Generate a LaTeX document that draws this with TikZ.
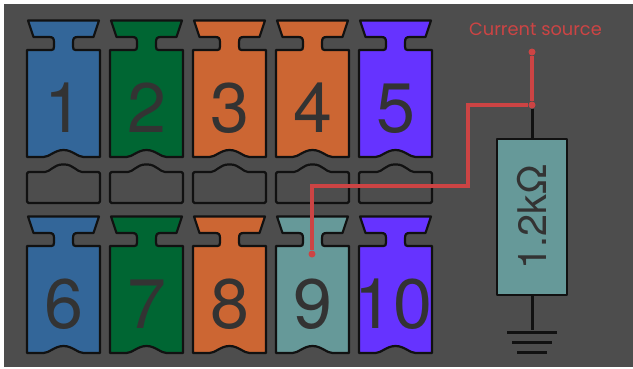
\documentclass[tikz,border=0pt]{standalone}
\usepackage{fontspec}
\setmainfont{TeX Gyre Heros}
\newfontfamily\labelfont{Poppins}
\usetikzlibrary{positioning}
\definecolor{PinBlue}{HTML}{336699}
\definecolor{PinGreen}{HTML}{006633}
\definecolor{PinOrange}{HTML}{CC6633}
\definecolor{PinPurple}{HTML}{6633FF}
\definecolor{PinTeal}{HTML}{669999}
\definecolor{PanelGray}{HTML}{4D4D4D}
\definecolor{InkDark}{HTML}{333333}
\definecolor{InkLine}{HTML}{111111}
\definecolor{WireRed}{HTML}{CC4444}

\begin{document}
\begin{tikzpicture}[
  x=1pt,y=-1pt,
  outline/.style={draw=InkLine,line width=2.2pt,line join=round},
  pinshape/.pic={
    \path[pic actions,outline] (-35.5,0) -- (35.5,0) -- (30,16.5) -- (14,16.5)
      .. controls (10.5,16.5) and (9.5,18) .. (9.5,22) -- (9.5,26)
      .. controls (9.5,28.5) and (10,29.5) .. (12,29.5)
      -- (36.5,29.5) -- (36.5,136.5) -- (20,136.5)
      .. controls (14,136.5) and (9,129.5) .. (0,129.5)
      .. controls (-9,129.5) and (-14,136.5) .. (-20,136.5)
      -- (-36.5,136.5) -- (-36.5,29.5) -- (-12,29.5)
      .. controls (-10,29.5) and (-9.5,28.5) .. (-9.5,26) -- (-9.5,22)
      .. controls (-9.5,18) and (-10.5,16.5) .. (-14,16.5)
      -- (-30,16.5) -- cycle;
  },
  slotshape/.pic={
    \path[outline,rounded corners=1.5pt] (-36.5,7.5) -- (-20,7.5)
      .. controls (-14,7.5) and (-9,0) .. (0,0)
      .. controls (9,0) and (14,7.5) .. (20,7.5)
      -- (36.5,7.5) -- (36.5,38.5) -- (-36.5,38.5) -- cycle;
  },
  digit/.style={anchor=base,text=InkDark,font=\fontsize{70}{70}\selectfont,inner sep=0pt},
  resbox/.style={outline,fill=PinTeal,rotate=90,minimum width=156pt,minimum height=70pt,inner sep=0pt,
    text=InkDark,font=\fontsize{39.5}{40}\selectfont},
  wire/.style={draw=InkLine,line width=3pt},
  redwire/.style={draw=WireRed,line width=3.2pt,line join=miter},
  dot/.style={circle,fill=WireRed,minimum size=7pt,inner sep=0pt},
  groundbar/.style={inner sep=0pt,minimum height=3pt,fill=InkLine}
]
\fill[white] (0,0) rectangle (633,368);
\useasboundingbox (0,0) rectangle (633,368);
\fill[PanelGray] (4,4) rectangle (633,367);
% pins
\foreach \n/\px/\py/\dx/\c in {1/63.5/20.5/0/PinBlue,2/146.5/20.5/0/PinGreen,3/229.5/20.5/0/PinOrange,4/312.5/20.5/0/PinOrange,5/395.5/20.5/0/PinPurple,
  6/63.5/216.5/0/PinBlue,7/146.5/216.5/0/PinGreen,8/229.5/216.5/0/PinOrange,9/312.5/216.5/0/PinTeal,10/395.5/216.5/-2/PinPurple} {
  \pic[fill=\c] at (\px,\py) {pinshape};
  \node[digit] (pin\n) at (\px+\dx,\py+111.5) {\n};
}
% slots between the rows
\foreach \px in {63.5,146.5,229.5,312.5,395.5} {
  \pic at (\px,164.5) {slotshape};
}
% resistor and ground
\node[resbox] (res) at (532,217) {1.2kΩ};
\node[dot] (tap) at (532,105) {};
\node[dot] (source) at (532,52) {};
\node[dot] (probe) at (312,254) {};
\node[groundbar,minimum width=50pt] (gnda) at (532,332) {};
\node[groundbar,minimum width=40pt] (gndb) at (532,342) {};
\node[groundbar,minimum width=30pt] (gndc) at (532,352) {};
\draw[wire] (tap) -- (res.east);
\draw[wire] (res.west) -- (gnda);
% red wiring
\node[text=WireRed,font=\labelfont\fontsize{17.8}{18}\selectfont,inner sep=0pt] (srclabel) at (535.5,29.5) {Current source};
\coordinate (benda) at (468,105);
\coordinate (bendb) at (468,186);
\coordinate (bendc) at (312,186);
\draw[redwire] (source) -- (tap);
\draw[redwire] (tap) -- (benda) -- (bendb) -- (bendc) -- (probe);
\end{tikzpicture}
\end{document}
